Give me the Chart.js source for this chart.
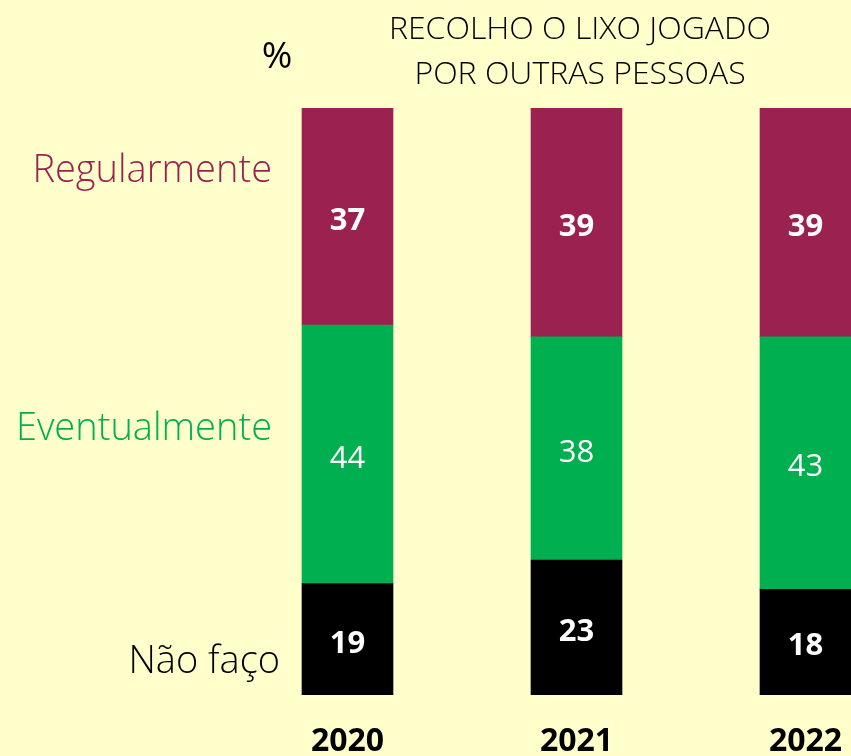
<!DOCTYPE html>
<html>
<head>
<meta charset="utf-8">
<script src="https://cdn.jsdelivr.net/npm/chart.js@4/dist/chart.umd.min.js"></script>
<style>
  body { margin: 0; background: #ffffcc; }
  #wrap { width: 851px; height: 756px; overflow: hidden; position: relative; }
</style>
</head>
<body>
<div id="wrap">
  <canvas id="lixo" width="960" height="756"></canvas>
</div>
<script>
// anos e percentagens
const anos = ['2020', '2021', '2022'];
const naoFaco = [19, 23, 18];
const eventualmente = [44, 38, 43];
const regularmente = [37, 39, 39];

const CORES = { reg: '#9b2150', evt: '#00b050', nao: '#000000' };
const FONTE = '"Open Sans", "Liberation Sans", sans-serif';

// numeros dentro das barras
const rotulosBarras = {
  id: 'rotulosBarras',
  afterDatasetsDraw(chart) {
    const ctx = chart.ctx;
    ctx.save();
    ctx.fillStyle = '#ffffff';
    ctx.textAlign = 'center';
    ctx.textBaseline = 'middle';
    chart.data.datasets.forEach((ds, i) => {
      const meta = chart.getDatasetMeta(i);
      ctx.font = (ds.negrito ? 'bold ' : '') + '31px ' + FONTE;
      meta.data.forEach((bar, j) => {
        const { x, y, base } = bar.getProps(['x', 'y', 'base'], true);
        ctx.fillText(ds.data[j], x, (y + base) / 2 + 4.5);
      });
    });
    ctx.restore();
  }
};

// titulo, simbolo % e legendas a esquerda
const textos = {
  id: 'textos',
  afterDraw(chart) {
    const ctx = chart.ctx;
    ctx.save();
    ctx.textBaseline = 'alphabetic';
    ctx.fillStyle = '#000000';
    ctx.textAlign = 'center';
    ctx.font = '300 32px ' + FONTE;
    ctx.fillText('RECOLHO O LIXO JOGADO', 580, 39);
    ctx.fillText('POR OUTRAS PESSOAS', 580, 84);
    ctx.font = '37px ' + FONTE;
    ctx.fillText('%', 277, 68);

    ctx.textAlign = 'right';
    ctx.font = '300 38px ' + FONTE;
    ctx.fillStyle = CORES.reg;
    ctx.fillText('Regularmente', 272, 182);
    ctx.fillStyle = CORES.evt;
    ctx.fillText('Eventualmente', 272, 440);
    ctx.fillStyle = CORES.nao;
    ctx.fillText('Não faço', 280, 673);
    ctx.restore();
  }
};

new Chart(document.getElementById('lixo').getContext('2d'), {
  type: 'bar',
  data: {
    labels: anos,
    datasets: [
      { label: 'Não faço', data: naoFaco, backgroundColor: CORES.nao, negrito: true },
      { label: 'Eventualmente', data: eventualmente, backgroundColor: CORES.evt, negrito: false },
      { label: 'Regularmente', data: regularmente, backgroundColor: CORES.reg, negrito: true }
    ]
  },
  options: {
    responsive: false,
    animation: false,
    layout: { padding: { left: 233, right: 40, top: 108, bottom: 0 } },
    datasets: { bar: { barThickness: 91, borderWidth: 0 } },
    plugins: {
      legend: { display: false },
      tooltip: { enabled: false }
    },
    scales: {
      x: {
        stacked: true,
        grid: { display: false, drawTicks: false },
        border: { display: false },
        ticks: {
          color: '#000000',
          padding: 28,
          font: { family: FONTE, size: 32, weight: 'bold' }
        },
        afterFit: s => { s.height = 61; }
      },
      y: {
        stacked: true,
        display: false,
        min: 0,
        max: 100
      }
    }
  },
  plugins: [rotulosBarras, textos]
});
</script>
</body>
</html>
